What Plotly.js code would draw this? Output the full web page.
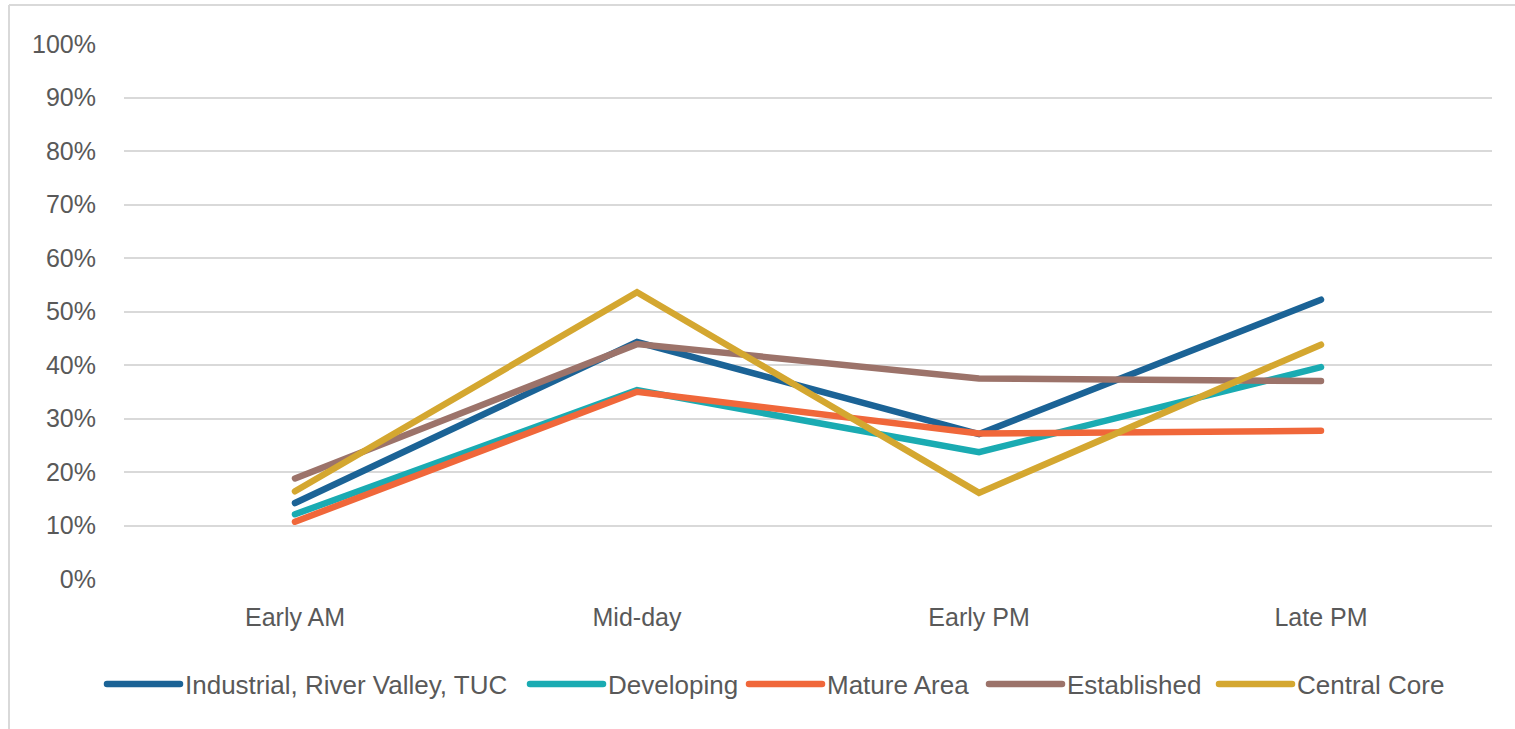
<!DOCTYPE html>
<html>
<head>
<meta charset="utf-8">
<script src="https://cdn.plot.ly/plotly-3.0.1.min.js"></script>
<style>
html,body{margin:0;padding:0;background:#fff;}
#chart{width:1515px;height:729px;}
.js-line{stroke-linecap:round;}
.legendlines path{stroke-linecap:round;}
</style>
</head>
<body>
<div id="chart"></div>
<script>
const categories = ["Early AM", "Mid-day", "Early PM", "Late PM"];
const seriesNames = ["Industrial, River Valley, TUC", "Developing", "Mature Area", "Established", "Central Core"];
const industrial = [0.142, 0.443, 0.271, 0.522];
const developing = [0.121, 0.353, 0.237, 0.396];
const mature = [0.107, 0.350, 0.272, 0.277];
const established = [0.188, 0.439, 0.375, 0.370];
const centralCore = [0.164, 0.536, 0.161, 0.438];
const yTicks = [0, 0.1, 0.2, 0.3, 0.4, 0.5, 0.6, 0.7, 0.8, 0.9, 1.0];

const colors = ["#1b6396", "#1aabb2", "#f0673a", "#9c736a", "#d4a730"];
const allValues = [industrial, developing, mature, established, centralCore];
const legendIds = ["legend", "legend2", "legend3", "legend4", "legend5"];
const legendLineStart = [108, 531, 750, 990, 1220];

const traces = allValues.map((vals, i) => ({
  type: "scatter",
  mode: "lines",
  x: categories,
  y: vals,
  name: seriesNames[i],
  legend: legendIds[i],
  line: {color: colors[i], width: 6.5},
  hoverinfo: "x+y+name"
}));

const L = 124, R = 1492, T = 44, B = 579;
const px2x = p => (p - L) / (R - L);
const px2y = p => (B - p) / (B - T);
const LEG_OFFSET = 6;

const layout = {
  width: 1515,
  height: 729,
  margin: {l: L, r: 1515 - R, t: T, b: 729 - B},
  paper_bgcolor: "#ffffff",
  plot_bgcolor: "#ffffff",
  font: {family: "Liberation Sans, Arial, sans-serif", size: 25, color: "#595959"},
  showlegend: true,
  xaxis: {
    type: "category",
    range: [-0.5, 3.5],
    showgrid: false,
    zeroline: false,
    showline: false,
    ticks: "",
    ticklabelstandoff: 21,
    tickfont: {size: 25, color: "#595959"},
    fixedrange: true
  },
  yaxis: {
    range: [0, 1],
    tickvals: yTicks,
    tickformat: ".0%",
    showgrid: true,
    gridcolor: "#d9d9d9",
    gridwidth: 2,
    zeroline: false,
    showline: false,
    ticks: "",
    ticklabelstandoff: 27,
    tickfont: {size: 25, color: "#595959"},
    fixedrange: true
  },
  shapes: [
    {type: "line", xref: "paper", yref: "paper", x0: px2x(9), x1: px2x(1515), y0: px2y(5), y1: px2y(5), line: {color: "#d9d9d9", width: 2}},
    {type: "line", xref: "paper", yref: "paper", x0: px2x(9), x1: px2x(9), y0: px2y(5), y1: px2y(729), line: {color: "#d9d9d9", width: 2}}
  ]
};

legendIds.forEach((id, i) => {
  layout[id] = {
    orientation: "h",
    x: px2x(legendLineStart[i] - LEG_OFFSET),
    xanchor: "left",
    y: px2y(684),
    yanchor: "middle",
    font: {size: 26, color: "#595959"},
    itemwidth: 73,
    bgcolor: "rgba(0,0,0,0)"
  };
});

Plotly.newPlot("chart", traces, layout, {displayModeBar: false});
</script>
</body>
</html>
